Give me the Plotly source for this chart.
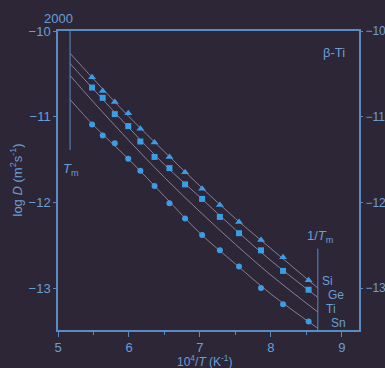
import plotly.graph_objects as go

# ---- data ----
inv_T = [5.48, 5.63, 5.80, 5.99, 6.16, 6.36, 6.57, 6.79, 7.03, 7.28, 7.55, 7.86, 8.17, 8.53]
si_logD = [-10.54, -10.70, -10.83, -10.96, -11.14, -11.30, -11.47, -11.65, -11.84, -12.03, -12.23, -12.44, -12.64, -12.91]
ge_logD = [-10.66, -10.78, -10.97, -11.11, -11.29, -11.47, -11.60, -11.79, -11.96, -12.17, -12.36, -12.56, -12.80, -13.02]
sn_logD = [-11.09, -11.22, -11.31, -11.49, -11.63, -11.81, -12.01, -12.19, -12.38, -12.56, -12.75, -13.00, -13.19, -13.39]

fit_x = [5.17, 5.5, 6.0, 6.5, 7.0, 7.5, 8.0, 8.66]
si_fit = [-10.26, -10.56, -11.00, -11.41, -11.81, -12.19, -12.54, -13.00]
ge_fit = [-10.38, -10.68, -11.13, -11.56, -11.94, -12.32, -12.68, -13.11]
ti_fit = [-10.52, -10.83, -11.28, -11.71, -12.11, -12.49, -12.85, -13.28]
sn_fit = [-10.80, -11.10, -11.50, -11.93, -12.36, -12.72, -13.07, -13.47]

series_names = ["Si", "Ge", "Ti", "Sn"]
label_x = [8.80, 8.92, 8.84, 8.95]
label_y = [-12.92, -13.08, -13.25, -13.41]

inv_Tm = 5.17
inv_Tb = 8.66
x_ticks = [5, 6, 7, 8, 9]
y_ticks = [-10, -11, -12, -13]
top_tick_x = 5
top_tick_text = "2000"

# ---- style ----
BG = "#2d2637"
AX = "#5a8cc4"
TXT = "#6a9fd6"
MK = "#3a9de6"
LN = "#8a8096"
FONT = "Liberation Sans, Arial, sans-serif"

fig = go.Figure()

for fy in [si_fit, ge_fit, ti_fit, sn_fit]:
    fig.add_trace(go.Scatter(x=fit_x, y=fy, mode="lines", line=dict(color=LN, width=1, shape="spline"),
                             showlegend=False, hoverinfo="skip"))

for vals, sym, sz in [(si_logD, "triangle-up", 7), (ge_logD, "square", 6), (sn_logD, "circle", 6)]:
    fig.add_trace(go.Scatter(x=inv_T, y=vals, mode="markers",
                             marker=dict(symbol=sym, size=sz, color=MK, line=dict(width=0)),
                             showlegend=False))

# Tm and beta-transus marker lines
fig.add_trace(go.Scatter(x=[inv_Tm, inv_Tm], y=[-10.0, -11.39], mode="lines",
                         line=dict(color=AX, width=1), showlegend=False, hoverinfo="skip"))
fig.add_trace(go.Scatter(x=[inv_Tb, inv_Tb], y=[-12.54, -13.49], mode="lines",
                         line=dict(color=AX, width=1), showlegend=False, hoverinfo="skip"))

# dummy trace to create the right axis
fig.add_trace(go.Scatter(x=[None], y=[None], yaxis="y2", showlegend=False))

for name, lx, ly in zip(series_names, label_x, label_y):
    fig.add_annotation(x=lx, y=ly, text=name, showarrow=False,
                       font=dict(family=FONT, size=12, color=TXT))

fig.add_annotation(x=5.183, y=-11.62, text="<i>T</i><sub>m</sub>", showarrow=False,
                   font=dict(family=FONT, size=13, color=TXT))
fig.add_annotation(x=8.69, y=-12.40, text="1/<i>T</i><sub>m</sub>", showarrow=False,
                   font=dict(family=FONT, size=13, color=TXT))
fig.add_annotation(x=8.887, y=-10.25, text="β-Ti", showarrow=False,
                   font=dict(family=FONT, size=13, color=TXT))
# top temperature label (T = 2000 K at 10^4/T = 5)
fig.add_annotation(x=top_tick_x, xref="x", y=1.0, yref="paper", yanchor="bottom", yshift=3,
                   text=top_tick_text, showarrow=False,
                   font=dict(family=FONT, size=13, color=TXT))
# x-axis title
fig.add_annotation(x=0.5, xref="paper", xshift=-4, y=0, yref="paper", yanchor="top", yshift=-21,
                   text="10<sup>4</sup>/<i>T</i> (K<sup>-1</sup>)", showarrow=False,
                   font=dict(family=FONT, size=12, color=TXT))
# y-axis title
fig.add_annotation(x=0, xref="paper", xanchor="center", xshift=-42, y=0.5, yref="paper",
                   textangle=-90, text="log <i>D</i> (m<sup>2</sup>s<sup>-1</sup>)", showarrow=False,
                   font=dict(family=FONT, size=13, color=TXT))

xr = [5, 9.24]
yr = [-13.49, -10.0]

fig.update_layout(
    width=385, height=368,
    margin=dict(l=58, r=26, t=31, b=38),
    paper_bgcolor=BG, plot_bgcolor=BG,
    font=dict(family=FONT, size=13, color=TXT),
    xaxis=dict(range=xr, tickvals=x_ticks, ticks="outside", ticklen=5, tickcolor=AX, automargin=False,
               showline=True, linecolor=AX, linewidth=1.5, mirror=True, showgrid=False, zeroline=False,
               minor=dict(dtick=0.5, ticks="outside", ticklen=3, tickcolor=AX),
               tickfont=dict(size=13, color=TXT)),
    yaxis=dict(range=yr, tickvals=y_ticks, ticks="outside", ticklen=3, tickcolor=AX, automargin=False,
               showline=True, linecolor=AX, linewidth=1.5, mirror=True, showgrid=False, zeroline=False,
               tickfont=dict(size=13, color=TXT)),
    yaxis2=dict(range=yr, overlaying="y", side="right", tickvals=y_ticks, ticks="outside", ticklen=3,
                tickcolor=AX, showline=False, showgrid=False, zeroline=False, automargin=False,
                tickfont=dict(size=12, color=TXT)),
)

# remove the page's default body margin so the 385x368 figure fills the window exactly
fig.write_html("out.html", config={"displayModeBar": False},
               post_script="document.body.style.margin='0';document.body.style.background='%s';" % BG)
